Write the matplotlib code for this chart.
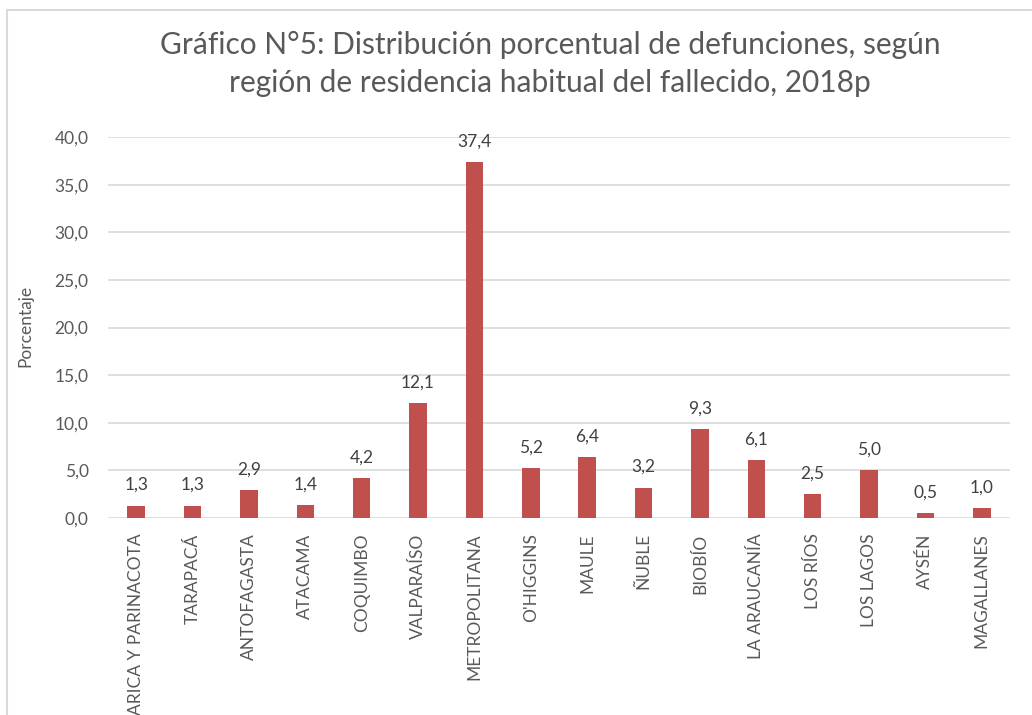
import matplotlib.pyplot as plt
from matplotlib.patches import Rectangle

regiones = ["ARICA Y PARINACOTA", "TARAPACÁ", "ANTOFAGASTA", "ATACAMA", "COQUIMBO",
            "VALPARAÍSO", "METROPOLITANA", "O'HIGGINS", "MAULE", "ÑUBLE", "BIOBÍO",
            "LA ARAUCANÍA", "LOS RÍOS", "LOS LAGOS", "AYSÉN", "MAGALLANES"]
porcentajes = [1.3, 1.3, 2.9, 1.4, 4.2, 12.1, 37.4, 5.2, 6.4, 3.2, 9.3, 6.1, 2.5, 5.0, 0.5, 1.0]
yticks = [0, 5, 10, 15, 20, 25, 30, 35, 40]

plt.rcParams["font.family"] = ["Lato", "DejaVu Sans"]
gris = "#595959"

fig = plt.figure(figsize=(10.32, 7.15), dpi=100)
ax = fig.add_axes([108 / 1032, 1 - 518 / 715, 902 / 1032, 381 / 715])

x = range(len(regiones))
ax.bar(x, porcentajes, width=0.31, color="#C0504D", zorder=3)
for xi, v in zip(x, porcentajes):
    ax.annotate(f"{v:.1f}".replace(".", ","), (xi, v), xytext=(0, 9),
                textcoords="offset points", ha="center", va="bottom",
                fontsize=12.5, color="#404040")

ax.set_xlim(-0.5, len(regiones) - 0.5)
ax.set_ylim(0, 40)
ax.set_yticks(yticks)
ax.set_yticklabels([f"{t:.1f}".replace(".", ",") for t in yticks], fontsize=12.5, color=gris)
ax.set_xticks(list(x))
ax.set_xticklabels(regiones, rotation=90, fontsize=12.5, color=gris)
ax.tick_params(length=0, axis="y", pad=14)
ax.tick_params(length=0, axis="x", pad=11)
ax.grid(axis="y", color="#d9d9d9", linewidth=1.2, zorder=0)
for s in ax.spines.values():
    s.set_visible(False)

fig.text(25 / 1032, 1 - 326 / 715, "Porcentaje", rotation=90, ha="center", va="center",
         fontsize=12.5, color=gris)
fig.text(550 / 1032, 1 - 64 / 715,
         "Gráfico N°5: Distribución porcentual de defunciones, según\nregión de residencia habitual del fallecido, 2018p",
         ha="center", va="center", fontsize=21.5, color=gris, linespacing=1.45)

fig.patches.append(Rectangle((7 / 1032, -0.1), 1.2, 1 - 10 / 715 + 0.1,
                             transform=fig.transFigure, fill=False,
                             edgecolor="#d9d9d9", linewidth=1.5))

fig.savefig("out.png", dpi=100)
